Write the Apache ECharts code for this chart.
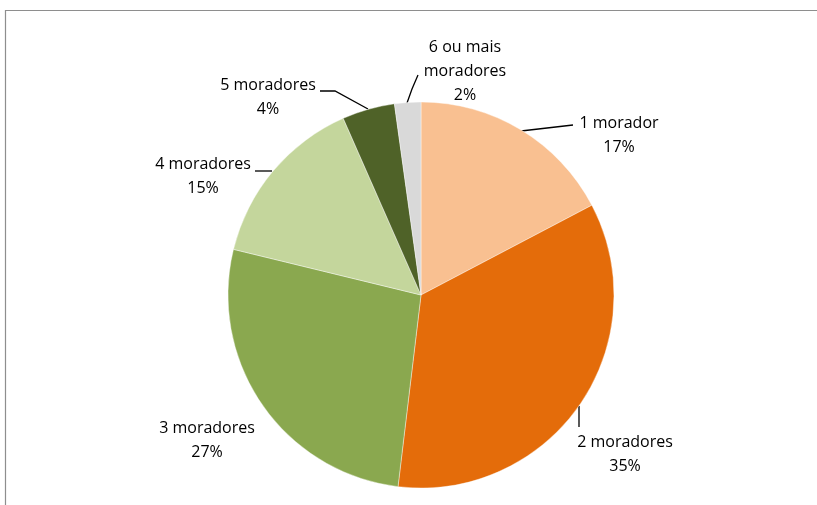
<!DOCTYPE html>
<html>
<head>
<meta charset="utf-8">
<script src="https://cdn.jsdelivr.net/npm/echarts@6/dist/echarts.min.js"></script>
<style>
  html, body { margin: 0; padding: 0; background: #fff; }
  #chart { width: 817px; height: 505px; }
</style>
</head>
<body>
<div id="chart"></div>
<script>
// categories clockwise from 12 o'clock
var categories = ['1 morador', '2 moradores', '3 moradores', '4 moradores', '5 moradores', '6 ou mais\nmoradores']
var shares = [17.3, 34.6, 26.9, 14.6, 4.4, 2.2]
var colors = ['#F9C091', '#E46C0A', '#8AA84F', '#C4D69C', '#4F6228', '#D9D9D9']

// where each label sits (Excel placed them by hand)
var labelSpots = [
  { x: 619, y: 135, line: [[521, 131], [547, 128], [573, 125]] },
  { x: 625, y: 454, line: [[579, 406], [579, 416], [579, 427]] },
  { x: 207, y: 440, line: null },
  { x: 203, y: 176, line: [[272, 171], [263, 171], [255, 171]] },
  { x: 268, y: 97, line: [[368, 109], [335, 91], [320, 91]] },
  { x: 465, y: 71, line: [[407, 103], [412, 89], [418, 75]] }
]

var chart = echarts.init(document.getElementById('chart'))

var pieData = categories.map(function (name, i) {
  return {
    name: name,
    value: shares[i],
    itemStyle: { color: colors[i] },
    labelLine: { show: labelSpots[i].line !== null }
  }
})

var option = {
  animation: false,
  graphic: [{
    type: 'rect',
    shape: { x: 5.5, y: 10.5, width: 900, height: 600 },
    style: { fill: null, stroke: '#8e8e8e', lineWidth: 1.2 },
    silent: true
  }],
  series: [{
    type: 'pie',
    center: [421, 295],
    radius: 193,
    startAngle: 90,
    clockwise: true,
    silent: true,
    itemStyle: { borderColor: '#fff', borderWidth: 0.4 },
    label: {
      show: true,
      color: '#000',
      fontFamily: 'Open Sans',
      fontSize: 16,
      lineHeight: 24,
      align: 'center',
      formatter: function (p) {
        return p.name + '\n' + Math.round(p.percent) + '%'
      }
    },
    labelLine: {
      show: true,
      lineStyle: { color: '#000', width: 1.3 }
    },
    labelLayout: function (params) {
      var s = labelSpots[params.dataIndex]
      var out = { x: s.x, y: s.y, align: 'center', verticalAlign: 'middle' }
      if (s.line) out.labelLinePoints = s.line
      return out
    },
    data: pieData
  }]
}

chart.setOption(option)
</script>
</body>
</html>
